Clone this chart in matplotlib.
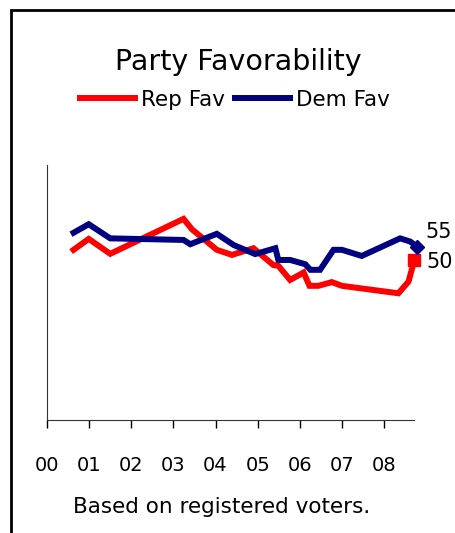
import matplotlib
matplotlib.use('Agg')
from matplotlib import pyplot as plt
from matplotlib.patches import Rectangle

# Years since 2000 (fractional) for each poll reading
rep_x = [0.63, 0.99, 1.50, 3.24, 3.44, 4.03, 4.39, 4.90, 5.37, 5.49, 5.77,
         6.09, 6.23, 6.44, 6.76, 7.00, 8.34, 8.58, 8.72]
rep_fav = [53.8, 57.9, 52.3, 65.4, 61.5, 53.8, 51.9, 54.4, 48.1, 47.8, 42.5,
           45.3, 40.3, 40.3, 41.7, 40.3, 37.5, 41.9, 50]

dem_x = [0.63, 0.99, 1.50, 3.24, 3.40, 4.03, 4.43, 4.94, 5.42, 5.49, 5.77,
         6.13, 6.25, 6.48, 6.80, 7.00, 7.47, 8.38, 8.62, 8.78]
dem_fav = [60.2, 63.4, 58.1, 57.5, 55.9, 59.8, 55.6, 52.2, 54.4, 50.0, 50.0,
           48.4, 46.3, 46.3, 53.8, 53.8, 51.5, 58.1, 56.9, 55]

year_labels = ['00', '01', '02', '03', '04', '05', '06', '07', '08']

plt.rcParams['font.family'] = ['DejaVu Sans']

fig = plt.figure(figsize=(4.56, 5.33), dpi=100)

# outer frame, runs off the right and bottom edges
fig.patches.append(Rectangle((11 / 456, -0.05), 1.0, 1 - 10 / 533 + 0.05,
                             transform=fig.transFigure, fill=False,
                             edgecolor='black', linewidth=2))

ax = fig.add_axes([47 / 456, 1 - 420 / 533, 367 / 456, 255 / 533])
ax.plot(rep_x, rep_fav, color='#ff0000', linewidth=4.3, solid_joinstyle='miter',
        label='Rep Fav', clip_on=False)
ax.plot(dem_x, dem_fav, color='#000080', linewidth=4.3, solid_joinstyle='miter',
        label='Dem Fav', clip_on=False)
ax.plot(rep_x[-1], rep_fav[-1], marker='s', markersize=8, color='#ff0000',
        clip_on=False)
ax.plot(dem_x[-1], dem_fav[-1], marker='D', markersize=7, color='#000080',
        clip_on=False)

# end-point value labels
ax.annotate(str(int(dem_fav[-1])), (dem_x[-1], dem_fav[-1]), xytext=(8, 15),
            textcoords='offset pixels', fontsize=15, va='center', ha='left',
            annotation_clip=False)
ax.annotate(str(int(rep_fav[-1])), (rep_x[-1], rep_fav[-1]), xytext=(12, -2),
            textcoords='offset pixels', fontsize=15, va='center', ha='left',
            annotation_clip=False)

ax.set_xlim(0, 8.71)
ax.set_ylim(-10, 85.6)
ax.set_xticks(range(9))
ax.set_xticklabels(year_labels, fontsize=14)
ax.tick_params(axis='x', length=6, width=1, pad=20, colors='black')
ax.set_yticks([])
for s in ['top', 'right']:
    ax.spines[s].set_visible(False)
ax.spines['left'].set_color('#333333')
ax.spines['bottom'].set_color('#333333')

fig.text(238 / 456, 1 - 62 / 533, 'Party Favorability', fontsize=20.5,
         ha='center', va='center')
fig.legend(loc='center', bbox_to_anchor=(235 / 456, 1 - 100 / 533), ncol=2,
           frameon=False, fontsize=15.5, handlelength=2.55, handletextpad=0.3,
           columnspacing=0.45, borderaxespad=0)
fig.text(222 / 456, 1 - 507 / 533, 'Based on registered voters.', fontsize=15.5,
         ha='center', va='center')

fig.savefig('out.png', dpi=100)
